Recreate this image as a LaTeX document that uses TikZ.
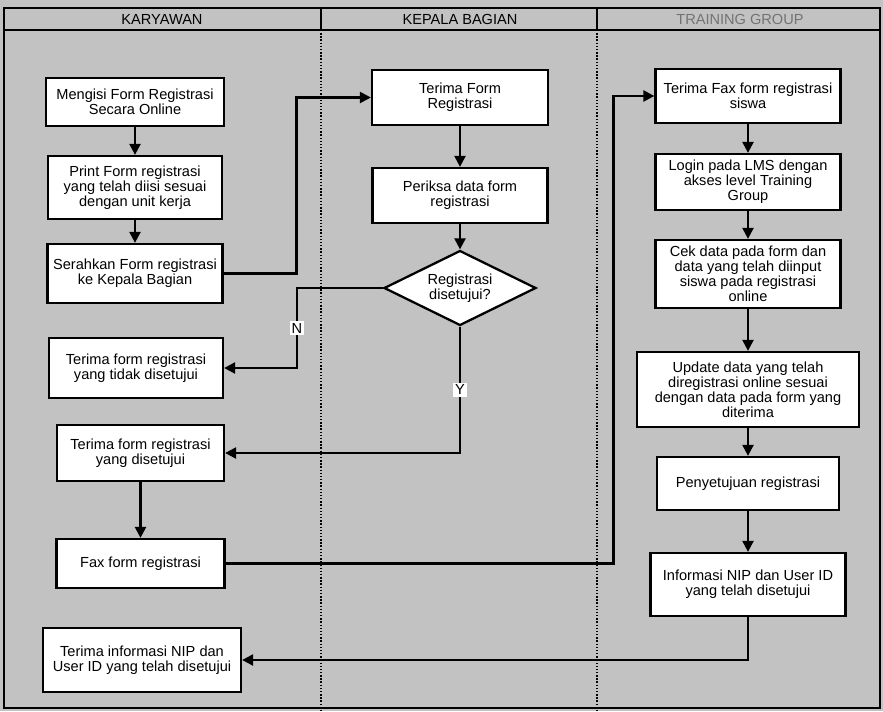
\documentclass[tikz,border=0pt]{standalone}
\usepackage{fontspec}
\setmainfont{Liberation Sans}
\usetikzlibrary{arrows.meta,positioning,shapes.geometric}
\newcommand{\flowfont}{\fontsize{8.3}{8.6}\selectfont}

\begin{document}
\begin{tikzpicture}[x=0.02cm,y=-0.02cm,every node/.style={font=\flowfont},
 b/.style={draw,line width=1.3pt,fill=white,align=center,inner sep=1pt},
 dec/.style={b,diamond,aspect=2,inner sep=0pt},
 lbl/.style={fill=white,inner sep=1pt},
 arr/.style={-{Triangle[length=2.2mm,width=2.2mm]},line width=1.3pt},
 lane/.style={line width=1.2pt,dash pattern=on 0.8pt off 1pt}]
% background and swimlanes
\fill[black!24] (0,0) rectangle (883,711);
\useasboundingbox (0,0) rectangle (883,711);
\draw[line width=1.2pt] (4,8) rectangle (880,708);
\draw[line width=1.3pt] (4,30) -- (880,30);
\draw[line width=1.2pt] (321,8) -- (321,30) (597,8) -- (597,30);
\draw[lane] (321,30) -- (321,711) (597,30) -- (597,711);
\node (h1) at (162,19) {KARYAWAN};
\node (h2) at (460,19) {KEPALA BAGIAN};
\node[text=black!55] (h3) at (740,19) {TRAINING GROUP};
% karyawan
\node[b,minimum width=3.56cm,minimum height=0.96cm] (k1) at (135,102) {Mengisi Form Registrasi\\Secara Online};
\node[b,minimum width=3.48cm,minimum height=1.26cm] (k2) at (135,187.5) {Print Form registrasi\\yang telah diisi sesuai\\dengan unit kerja};
\node[b,minimum width=3.5cm,minimum height=1.18cm] (k3) at (135,273.5) {Serahkan Form registrasi\\ke Kepala Bagian};
\node[b,minimum width=3.48cm,minimum height=1.2cm] (k4) at (136,368) {Terima form registrasi\\yang tidak disetujui};
\node[b,minimum width=3.34cm,minimum height=1.12cm] (k5) at (140.5,453) {Terima form registrasi\\yang disetujui};
\node[b,minimum width=3.36cm,minimum height=0.98cm] (k6) at (140.5,563.5) {Fax form registrasi};
\node[b,minimum width=3.96cm,minimum height=1.28cm] (k7) at (142,660) {Terima informasi NIP dan\\User ID yang telah disetujui};
% kepala bagian
\node[b,minimum width=3.52cm,minimum height=1.1cm] (ka) at (460,97.5) {Terima Form\\Registrasi};
\node[b,minimum width=3.5cm,minimum height=1.1cm] (kb) at (460,195.5) {Periksa data form\\registrasi};
\node[dec,minimum width=3.04cm,minimum height=1.5cm] (d) at (460,288) {Registrasi\\disetujui?};
% training group
\node[b,minimum width=3.7cm,minimum height=1.08cm] (r1) at (748,96) {Terima Fax form registrasi\\siswa};
\node[b,minimum width=3.7cm,minimum height=1.12cm] (r2) at (748,182) {Login pada LMS dengan\\akses level Training\\Group};
\node[b,minimum width=3.7cm,minimum height=1.36cm] (r3) at (748,274) {Cek data pada form dan\\data yang telah diinput\\siswa pada registrasi\\online};
\node[b,minimum width=4.44cm,minimum height=1.5cm] (r4) at (748,389.5) {Update data yang telah\\diregistrasi online sesuai\\dengan data pada form yang\\diterima};
\node[b,minimum width=3.64cm,minimum height=1.06cm] (r5) at (748,483.5) {Penyetujuan registrasi};
\node[b,minimum width=3.9cm,minimum height=1.26cm] (r6) at (748,584.5) {Informasi NIP dan User ID\\yang telah disetujui};
% flow
\draw[arr] (k1)--(k2); \draw[arr] (k2)--(k3); \draw[arr] (k5)--(k6);
\draw[arr] (ka)--(kb); \draw[arr] (kb)--(d);
\draw[arr] (r1)--(r2); \draw[arr] (r2)--(r3); \draw[arr] (r3)--(r4);
\draw[arr] (r4)--(r5); \draw[arr] (r5)--(r6);
\draw[arr] (k3.east) -- ++(73,0) |- (ka.west);
\draw[arr] (d.west) -- ++(-86,0) |- node[pos=0.25,lbl]{N} (k4.east);
\draw[arr] (d.south) |- node[pos=0.25,lbl]{Y} (k5.east);
\draw[arr] (k6.east) -- ++(388,0) |- (r1.west);
\draw[arr] (r6.south) |- (k7.east);
\end{tikzpicture}
\end{document}
